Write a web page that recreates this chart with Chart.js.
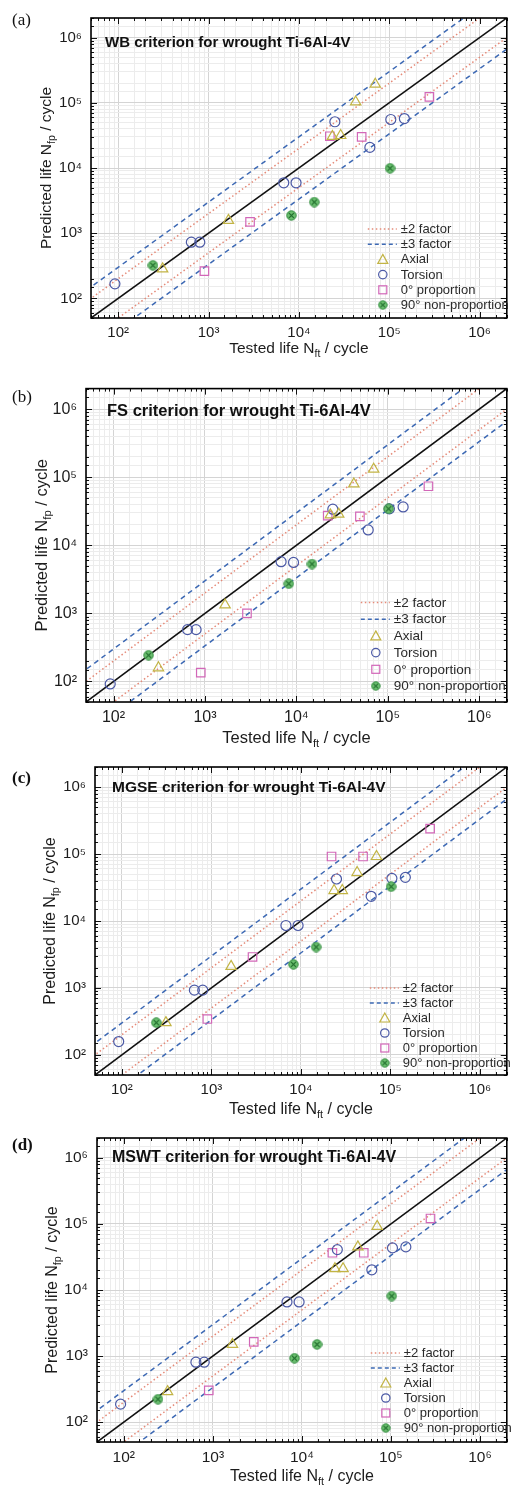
<!DOCTYPE html>
<html>
<head>
<meta charset="utf-8">
<title>Predicted vs tested life, wrought Ti-6Al-4V</title>
<script src="https://cdn.jsdelivr.net/npm/chart.js@4.4.1/dist/chart.umd.min.js"></script>
<style>
  body { margin: 0; background: #fff; width: 514px; height: 1488px; position: relative; overflow: hidden; }
  .panel { position: absolute; left: 0; }
  canvas { display: block; }
</style>
</head>
<body>
<div class="panel" style="top:0px"><canvas id="chartA" width="514" height="372"></canvas></div>
<div class="panel" style="top:370px"><canvas id="chartB" width="514" height="382"></canvas></div>
<div class="panel" style="top:740px"><canvas id="chartC" width="514" height="385"></canvas></div>
<div class="panel" style="top:1115px"><canvas id="chartD" width="514" height="373"></canvas></div>

<script>
// --- Data: tested life N_ft (same specimens in every panel) ---
const testedAxial   = [310, 1660, 23500, 29000, 42500, 70000];
const testedTorsion = [92, 645, 800, 6800, 9300, 25000, 61000, 104000, 147000];
const testedProp0   = [900, 2880, 22000, 49500, 278000];
const testedNonProp = [242, 8250, 14800, 102000];

// --- Predicted life N_fp for each criterion ---
const wbAxial   = [284, 1570, 30500, 31500, 103000, 193000];
const wbTorsion = [167, 728, 728, 5930, 5930, 51200, 20700, 55500, 57400];
const wbProp0   = [262, 1490, 30700, 30000, 123000];
const wbNonProp = [321, 1870, 3000, 9900];

const fsAxial   = [159, 1330, 28000, 28700, 79600, 131000];
const fsTorsion = [92, 577, 577, 5740, 5600, 33900, 16800, 34300, 36600];
const fsProp0   = [135, 1000, 27200, 26600, 73600];
const fsNonProp = [243, 2730, 5310, 34300];

const mgseAxial   = [303, 2100, 28500, 28500, 53000, 92000];
const mgseTorsion = [158, 927, 927, 8570, 8570, 42400, 23400, 43400, 44900];
const mgseProp0   = [343, 2900, 92000, 92000, 240000];
const mgseNonProp = [303, 2250, 4080, 32600];

const mswtAxial   = [289, 1500, 21000, 21000, 45000, 92000];
const mswtTorsion = [187, 807, 807, 6590, 6590, 40900, 20200, 43400, 44900];
const mswtProp0   = [303, 1640, 36600, 36600, 121000];
const mswtNonProp = [222, 927, 1500, 8100];

// axis range and guide lines
const axisMin = 50;
const axisMax = 2e6;
const guideEnds = [10, 1e7];
const factorTwo = 2;
const factorThree = 3;

const seriesLabels = ['Axial', 'Torsion', '0\u00b0 proportion', '90\u00b0 non-proportion'];
const guideLabels = ['\u00b12 factor', '\u00b13 factor'];

// --- Styles ---
const FONT = '"Liberation Sans", Arial, Helvetica, sans-serif';
const SERIF = '"Liberation Serif", "Times New Roman", serif';
const TEXT = '#1c1c1c';
const AXIAL_COLOR = '#c2b445';
const TORSION_COLOR = '#4c5aa6';
const PROP_COLOR = '#d267b8';
const NONPROP_FILL = '#6cc070';
const NONPROP_EDGE = '#2f8a3c';
const DOT_COLOR = '#e58a78';
const DASH_COLOR = '#3d69b4';

const SUP = { 2: '\u00b2', 3: '\u00b3', 4: '\u2074', 5: '\u2075', 6: '\u2076' };

function isDecade(v) {
    const l = Math.log10(v);
    return Math.abs(l - Math.round(l)) < 1e-9;
}

function zip(xs, ys) {
    return xs.map((x, i) => ({ x: x, y: ys[i] }));
}

function guide(factor) {
    return guideEnds.map(x => ({ x: x, y: x * factor }));
}

// green filled dot with a cross, used for the 90 deg non-proportional points
function makeCrossedDot(size) {
    const c = document.createElement('canvas');
    c.width = size; c.height = size;
    const g = c.getContext('2d');
    const m = size / 2;
    const r = m - 0.8;
    g.beginPath();
    g.arc(m, m, r, 0, Math.PI * 2);
    g.fillStyle = NONPROP_FILL;
    g.fill();
    g.lineWidth = 1;
    g.strokeStyle = NONPROP_EDGE;
    g.stroke();
    const d = r * 0.55;
    g.beginPath();
    g.moveTo(m - d, m - d); g.lineTo(m + d, m + d);
    g.moveTo(m + d, m - d); g.lineTo(m - d, m + d);
    g.strokeStyle = '#1f6b2b';
    g.lineWidth = 1.2;
    g.stroke();
    return c;
}
const crossedDot = makeCrossedDot(11);

// draw text made of [string, isSubscript] parts
function drawParts(ctx, parts, x, y, size, align) {
    const subSize = size * 0.68;
    let total = 0;
    parts.forEach(p => {
        ctx.font = (p[1] ? subSize : size) + 'px ' + FONT;
        total += ctx.measureText(p[0]).width;
    });
    let cx = align === 'center' ? x - total / 2 : x;
    ctx.textAlign = 'left';
    ctx.textBaseline = 'middle';
    parts.forEach(p => {
        ctx.font = (p[1] ? subSize : size) + 'px ' + FONT;
        ctx.fillText(p[0], cx, p[1] ? y + size * 0.33 : y);
        cx += ctx.measureText(p[0]).width;
    });
}

function legendMarker(ctx, kind, x, y) {
    ctx.save();
    ctx.setLineDash([]);
    ctx.lineWidth = 1.2;
    if (kind === 'triangle') {
        ctx.strokeStyle = AXIAL_COLOR;
        ctx.beginPath();
        ctx.moveTo(x, y - 5); ctx.lineTo(x + 5, y + 4); ctx.lineTo(x - 5, y + 4); ctx.closePath();
        ctx.stroke();
    } else if (kind === 'circle') {
        ctx.strokeStyle = TORSION_COLOR;
        ctx.beginPath(); ctx.arc(x, y, 4.2, 0, Math.PI * 2); ctx.stroke();
    } else if (kind === 'rect') {
        ctx.strokeStyle = PROP_COLOR;
        ctx.strokeRect(x - 4, y - 4, 8, 8);
    } else {
        ctx.drawImage(crossedDot, x - 5, y - 5, 10, 10);
    }
    ctx.restore();
}

// frame, inside ticks, titles and legend
const decorPlugin = {
    id: 'decor',
    afterDraw(chart) {
        const p = chart.options.plugins.decor;
        const ctx = chart.ctx;
        const a = chart.chartArea;
        const xs = chart.scales.x;
        const ys = chart.scales.y;
        ctx.save();

        // inside tick marks on all four sides
        ctx.strokeStyle = '#111';
        ctx.lineWidth = 1;
        ctx.beginPath();
        xs.ticks.forEach(t => {
            const px = Math.round(xs.getPixelForValue(t.value)) + 0.5;
            const len = isDecade(t.value) ? 6 : 3;
            ctx.moveTo(px, a.bottom); ctx.lineTo(px, a.bottom - len);
            ctx.moveTo(px, a.top); ctx.lineTo(px, a.top + len);
        });
        ys.ticks.forEach(t => {
            const py = Math.round(ys.getPixelForValue(t.value)) + 0.5;
            const len = isDecade(t.value) ? 6 : 3;
            ctx.moveTo(a.left, py); ctx.lineTo(a.left + len, py);
            ctx.moveTo(a.right, py); ctx.lineTo(a.right - len, py);
        });
        ctx.stroke();

        // frame
        ctx.lineWidth = 1.6;
        ctx.strokeStyle = '#000';
        ctx.strokeRect(a.left, a.top, a.right - a.left, a.bottom - a.top);

        // criterion title
        ctx.fillStyle = '#111';
        ctx.font = 'bold ' + p.titleSize + 'px ' + FONT;
        ctx.textAlign = 'left';
        ctx.textBaseline = 'middle';
        ctx.fillText(p.title, a.left + p.titleDx, a.top + p.titleDy);

        // panel tag
        ctx.font = (p.tagBold ? 'bold ' : '') + '17px ' + SERIF;
        ctx.fillText(p.tag, 12, p.tagY);

        // axis titles
        ctx.fillStyle = TEXT;
        drawParts(ctx, [['Tested life N', 0], ['ft', 1], [' / cycle', 0]],
            (a.left + a.right) / 2, a.bottom + p.xTitleGap, p.axisTitleSize, 'center');
        ctx.save();
        ctx.translate(a.left - 44, (a.top + a.bottom) / 2);
        ctx.rotate(-Math.PI / 2);
        drawParts(ctx, [['Predicted life N', 0], ['fp', 1], [' / cycle', 0]],
            0, 0, p.axisTitleSize, 'center');
        ctx.restore();

        // legend
        const lg = p.legend;
        const tx = a.right - lg.fromRight;
        let y = a.bottom - lg.fromBottom - 5 * lg.gap;
        ctx.font = lg.size + 'px ' + FONT;
        ctx.textAlign = 'left';
        ctx.textBaseline = 'middle';
        const rows = [
            { label: guideLabels[0], line: true, color: DOT_COLOR, dash: [1.5, 2.5] },
            { label: guideLabels[1], line: true, color: DASH_COLOR, dash: [4, 3] },
            { label: seriesLabels[0], kind: 'triangle' },
            { label: seriesLabels[1], kind: 'circle' },
            { label: seriesLabels[2], kind: 'rect' },
            { label: seriesLabels[3], kind: 'dot' }
        ];
        rows.forEach(r => {
            if (r.line) {
                ctx.save();
                ctx.strokeStyle = r.color;
                ctx.lineWidth = 1.5;
                ctx.setLineDash(r.dash);
                ctx.beginPath();
                ctx.moveTo(tx - 33, y); ctx.lineTo(tx - 4, y);
                ctx.stroke();
                ctx.restore();
            } else {
                legendMarker(ctx, r.kind, tx - 18, y);
            }
            ctx.fillStyle = '#2a2a2a';
            ctx.fillText(r.label, tx, y + 0.5);
            y += lg.gap;
        });
        ctx.restore();
    }
};

function makeScale(box, tickSize, axis) {
    return {
        type: 'logarithmic',
        min: axisMin,
        max: axisMax,
        grid: {
            drawTicks: false,
            lineWidth: 1,
            color: (c) => (c.tick && isDecade(c.tick.value)) ? '#d4d4d4' : '#ececec'
        },
        border: { display: false },
        ticks: {
            autoSkip: false,
            maxRotation: 0,
            minRotation: 0,
            padding: axis === 'x' ? 6 : 9,
            color: TEXT,
            font: { family: FONT, size: tickSize },
            callback: (v) => isDecade(v) ? '10' + SUP[Math.round(Math.log10(v))] : ''
        },
        afterFit: (scale) => {
            if (axis === 'x') scale.height = box.bottom;
            else scale.width = box.left;
        }
    };
}

function renderPanel(cfg) {
    const ctx = document.getElementById(cfg.id).getContext('2d');
    new Chart(ctx, {
        type: 'scatter',
        data: {
            datasets: [
                { label: 'y = x', data: guide(1), showLine: true, borderColor: '#111', borderWidth: 1.6,
                  pointRadius: 0, order: 5 },
                { label: guideLabels[0], data: guide(factorTwo), showLine: true, borderColor: DOT_COLOR,
                  borderWidth: 1.5, borderDash: [1.5, 2.5], pointRadius: 0, order: 5 },
                { label: guideLabels[0], data: guide(1 / factorTwo), showLine: true, borderColor: DOT_COLOR,
                  borderWidth: 1.5, borderDash: [1.5, 2.5], pointRadius: 0, order: 5 },
                { label: guideLabels[1], data: guide(factorThree), showLine: true, borderColor: DASH_COLOR,
                  borderWidth: 1.5, borderDash: [5, 4], pointRadius: 0, order: 5 },
                { label: guideLabels[1], data: guide(1 / factorThree), showLine: true, borderColor: DASH_COLOR,
                  borderWidth: 1.5, borderDash: [5, 4], pointRadius: 0, order: 5 },
                { label: seriesLabels[2], data: zip(testedProp0, cfg.prop0), pointStyle: 'rect',
                  pointRadius: 6, borderColor: PROP_COLOR, backgroundColor: 'rgba(0,0,0,0)',
                  borderWidth: 1.2, order: 3 },
                { label: seriesLabels[0], data: zip(testedAxial, cfg.axial), pointStyle: 'triangle',
                  pointRadius: 6, borderColor: AXIAL_COLOR, backgroundColor: 'rgba(0,0,0,0)',
                  borderWidth: 1.2, order: 2 },
                { label: seriesLabels[1], data: zip(testedTorsion, cfg.torsion), pointStyle: 'circle',
                  pointRadius: 5, borderColor: TORSION_COLOR, backgroundColor: 'rgba(0,0,0,0)',
                  borderWidth: 1.2, order: 2 },
                { label: seriesLabels[3], data: zip(testedNonProp, cfg.nonProp), pointStyle: crossedDot,
                  pointRadius: 5, order: 1 }
            ]
        },
        options: {
            responsive: false,
            animation: false,
            events: [],
            layout: { padding: { top: cfg.box.top, right: cfg.box.right, left: 0, bottom: 0 } },
            scales: {
                x: makeScale(cfg.box, cfg.tickSize, 'x'),
                y: makeScale(cfg.box, cfg.tickSize, 'y')
            },
            plugins: {
                legend: { display: false },
                tooltip: { enabled: false },
                decor: cfg
            }
        },
        plugins: [decorPlugin]
    });
}

const panels = [
    { id: 'chartA', tag: '(a)', tagY: 21, tagBold: false, title: 'WB criterion for wrought Ti-6Al-4V',
      axial: wbAxial, torsion: wbTorsion, prop0: wbProp0, nonProp: wbNonProp,
      box: { left: 91, top: 7, right: 2, bottom: 54 }, tickSize: 15, titleSize: 15, titleDx: 14, titleDy: 25,
      axisTitleSize: 15.5, xTitleGap: 31, legend: { fromRight: 106, fromBottom: 13, gap: 15.2, size: 13 } },
    { id: 'chartB', tag: '(b)', tagY: 28, tagBold: false, title: 'FS criterion for wrought Ti-6Al-4V',
      axial: fsAxial, torsion: fsTorsion, prop0: fsProp0, nonProp: fsNonProp,
      box: { left: 86, top: 14, right: 1, bottom: 50 }, tickSize: 16, titleSize: 16.5, titleDx: 21, titleDy: 23,
      axisTitleSize: 16.5, xTitleGap: 36, legend: { fromRight: 113, fromBottom: 16, gap: 16.7, size: 13.5 } },
    { id: 'chartC', tag: '(c)', tagY: 39, tagBold: true, title: 'MGSE criterion for wrought Ti-6Al-4V',
      axial: mgseAxial, torsion: mgseTorsion, prop0: mgseProp0, nonProp: mgseNonProp,
      box: { left: 95, top: 27, right: 5, bottom: 50 }, tickSize: 15, titleSize: 15.5, titleDx: 17, titleDy: 21,
      axisTitleSize: 16, xTitleGap: 35, legend: { fromRight: 104, fromBottom: 12, gap: 15, size: 13 } },
    { id: 'chartD', tag: '(d)', tagY: 31, tagBold: true, title: 'MSWT criterion for wrought Ti-6Al-4V',
      axial: mswtAxial, torsion: mswtTorsion, prop0: mswtProp0, nonProp: mswtNonProp,
      box: { left: 97, top: 23, right: 5, bottom: 46 }, tickSize: 15.5, titleSize: 16, titleDx: 15, titleDy: 20,
      axisTitleSize: 16, xTitleGap: 35, legend: { fromRight: 103, fromBottom: 14, gap: 15, size: 13 } }
];

panels.forEach(renderPanel);
</script>
</body>
</html>
